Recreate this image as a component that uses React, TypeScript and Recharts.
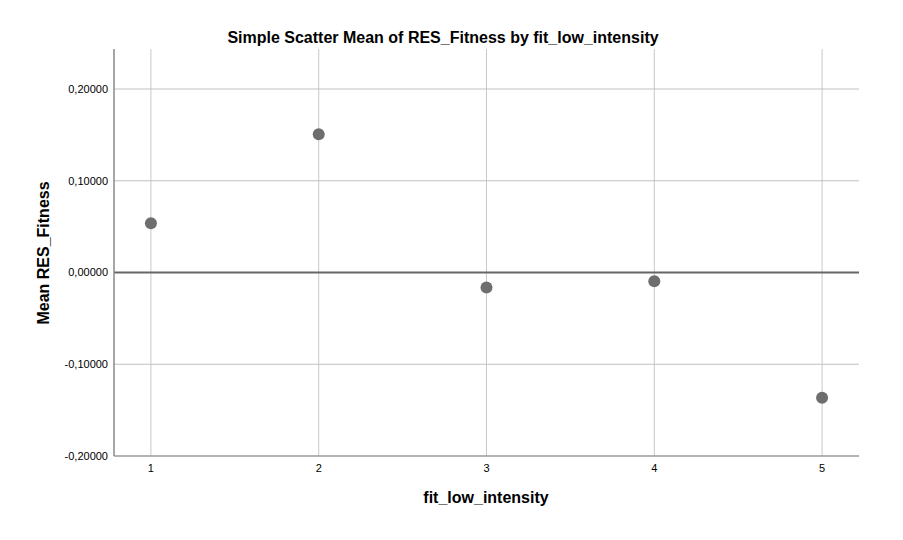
import React from "react";
import {
  ReferenceLine,
  Scatter,
  ScatterChart,
  XAxis,
  YAxis,
} from "recharts";

const levels = [1, 2, 3, 4, 5];
const meanResFitness = [0.0536, 0.1508, -0.0164, -0.0095, -0.1366];
const yTicks = [-0.2, -0.1, 0, 0.1, 0.2];

const points = levels.map((x, i) => ({ x, y: meanResFitness[i] }));

const FONT = "'Liberation Sans', Arial, sans-serif";

function fmt(v: number) {
  return v.toFixed(5).replace(".", ",");
}

function Dot(props: any) {
  const { cx, cy } = props;
  if (cx == null || cy == null) return null;
  return <circle cx={cx} cy={cy} r={6} fill="#6e6e6e" />;
}

export default function App() {
  return (
    <div style={{ position: "absolute", left: 0, top: 0, width: 903, height: 540, background: "#fff", fontFamily: FONT }}>
      <ScatterChart width={903} height={540} margin={{ top: 49, right: 44, bottom: 54, left: 54 }}>
        <XAxis
          type="number"
          dataKey="x"
          domain={[0.78, 5.22]}
          ticks={levels}
          height={30}
          tickLine={false}
          axisLine={{ stroke: "#9a9a9a", strokeWidth: 1.5 }}
          tick={{ fill: "#000", fontSize: 11, fontFamily: FONT }}
          tickMargin={2}
        />
        <YAxis
          type="number"
          dataKey="y"
          domain={[-0.2, 0.2436]}
          ticks={yTicks}
          width={60}
          tickLine={false}
          axisLine={{ stroke: "#888", strokeWidth: 1.5 }}
          tick={{ fill: "#000", fontSize: 11, fontFamily: FONT }}
          tickMargin={0}
          tickFormatter={fmt}
        />
        {levels.map((v) => (
          <ReferenceLine key={"vx" + v} x={v} stroke="#c8c8c8" strokeWidth={1} />
        ))}
        {yTicks.filter((v) => v !== 0 && v !== -0.2).map((v) => (
          <ReferenceLine key={"hy" + v} y={v} stroke="#c0c0c0" strokeWidth={1} />
        ))}
        <ReferenceLine y={0} stroke="#666" strokeWidth={2} />
        <Scatter data={points} fill="#6e6e6e" isAnimationActive={false} shape={<Dot />} />
        <text x={443} y={43} textAnchor="middle" fontSize={16} fontWeight="bold" fontFamily={FONT} fill="#000">
          Simple Scatter Mean of RES_Fitness by fit_low_intensity
        </text>
        <text x={486} y={503} textAnchor="middle" fontSize={16} fontWeight="bold" fontFamily={FONT} fill="#000">
          fit_low_intensity
        </text>
        <text
          x={49}
          y={253}
          textAnchor="middle"
          fontSize={16}
          fontWeight="bold"
          fontFamily={FONT}
          fill="#000"
          transform="rotate(-90 49 253)"
        >
          Mean RES_Fitness
        </text>
      </ScatterChart>
    </div>
  );
}
